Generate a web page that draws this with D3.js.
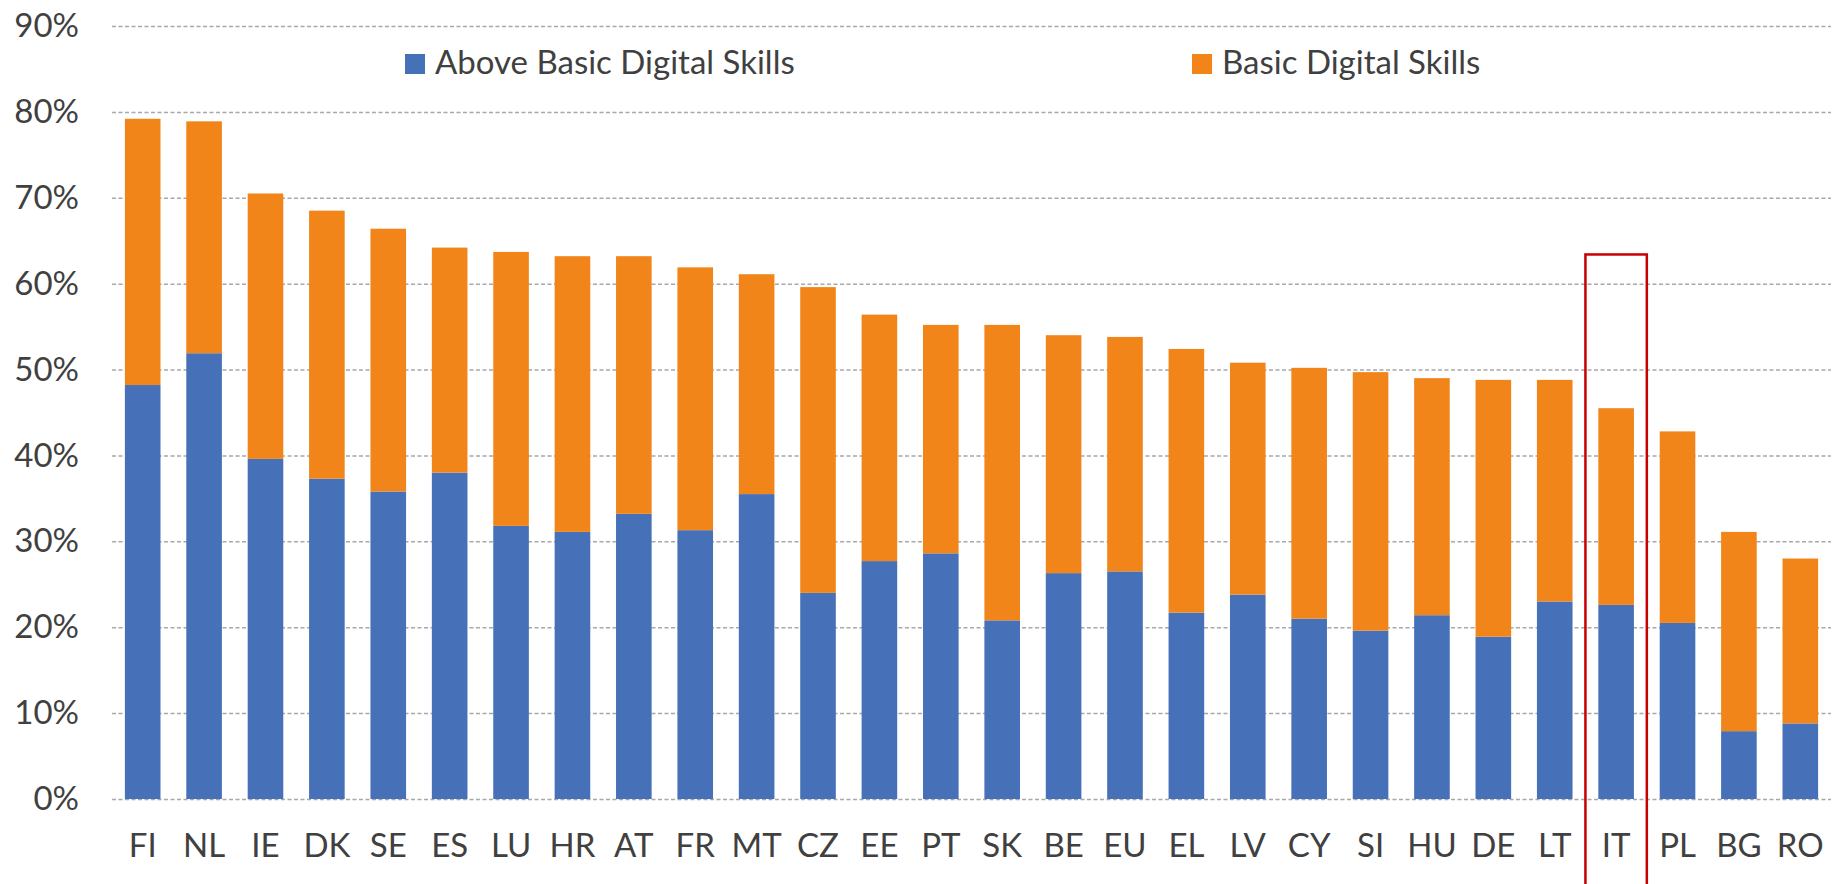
<!DOCTYPE html>
<html>
<head>
<meta charset="utf-8">
<script src="https://cdn.jsdelivr.net/npm/d3@7"></script>
<style>
  body { margin: 0; background: #fff; }
  svg text { font-family: Lato, "Noto Sans", sans-serif; fill: #404040; }
</style>
</head>
<body>
<div id="chart"></div>
<script>
// Share of people with digital skills, by country (stacked bars)
const countries = ['FI', 'NL', 'IE', 'DK', 'SE', 'ES', 'LU', 'HR', 'AT', 'FR', 'MT', 'CZ', 'EE', 'PT',
  'SK', 'BE', 'EU', 'EL', 'LV', 'CY', 'SI', 'HU', 'DE', 'LT', 'IT', 'PL', 'BG', 'RO'];

// percentages
const aboveBasic = [48.2, 51.9, 39.6, 37.3, 35.8, 38.0, 31.8, 31.1, 33.2, 31.3, 35.5, 24.0, 27.7, 28.6,
  20.8, 26.3, 26.5, 21.7, 23.8, 21.0, 19.6, 21.4, 18.9, 23.0, 22.6, 20.5, 7.9, 8.8];
const basic = [31.0, 27.0, 30.9, 31.2, 30.6, 26.2, 31.9, 32.1, 30.0, 30.6, 25.6, 35.6, 28.7, 26.6,
  34.4, 27.7, 27.3, 30.7, 27.0, 29.2, 30.1, 27.6, 29.9, 25.8, 22.9, 22.3, 23.2, 19.2];

const seriesNames = ['Above Basic Digital Skills', 'Basic Digital Skills'];
const seriesColors = ['#4671B8', '#F2851A'];
const yTicks = [0, 0.1, 0.2, 0.3, 0.4, 0.5, 0.6, 0.7, 0.8, 0.9];

// highlighted country and where its box starts
const highlight = 'IT';
const highlightTop = 0.634;

const width = 1832;
const height = 884;
const margin = { top: 26, right: 1, bottom: 85, left: 112 };

const rows = countries.map((c, i) => ({ country: c, above: aboveBasic[i] / 100, basic: basic[i] / 100 }));

const svg = d3.select('#chart').append('svg')
  .attr('width', width)
  .attr('height', height);

const x = d3.scaleBand()
  .domain(countries)
  .range([margin.left, width - margin.right])
  .paddingInner(0.42)
  .paddingOuter(0.21);

const y = d3.scaleLinear()
  .domain([0, 0.9])
  .range([height - margin.bottom, margin.top]);

// dashed gridlines
svg.append('g')
  .attr('class', 'grid')
  .attr('transform', `translate(${margin.left},0)`)
  .call(d3.axisLeft(y).tickValues(yTicks).tickSize(-(width - margin.left - margin.right)).tickFormat(''))
  .call(g => g.select('.domain').remove())
  .call(g => g.selectAll('line')
    .attr('stroke', '#a8a8a8')
    .attr('stroke-width', 1.5)
    .attr('stroke-dasharray', '4,2.5'));

// y labels
svg.append('g')
  .attr('transform', 'translate(79,0)')
  .call(d3.axisLeft(y).tickValues(yTicks).tickSize(0).tickPadding(0).tickFormat(d3.format('.0%')))
  .call(g => g.select('.domain').remove())
  .selectAll('text')
  .style('font-size', '33px')
  .attr('fill', '#404040');

// stacked bars
const stack = d3.stack().keys(['above', 'basic']);
const layers = stack(rows);

svg.append('g')
  .selectAll('g')
  .data(layers)
  .join('g')
  .attr('fill', (d, i) => seriesColors[i])
  .selectAll('rect')
  .data(d => d)
  .join('rect')
  .attr('x', d => x(d.data.country))
  .attr('width', x.bandwidth())
  .attr('y', d => y(d[1]))
  .attr('height', d => y(d[0]) - y(d[1]));

// x labels
svg.append('g')
  .attr('transform', `translate(0,${height - margin.bottom})`)
  .call(d3.axisBottom(x).tickSize(0).tickPadding(35))
  .call(g => g.select('.domain').remove())
  .selectAll('text')
  .style('font-size', '33px')
  .attr('fill', '#404040');

// red box round the highlighted country
const step = x.step();
const hx = x(highlight) + x.bandwidth() / 2 - step / 2;
svg.append('rect')
  .attr('x', hx)
  .attr('y', y(highlightTop))
  .attr('width', step)
  .attr('height', height)
  .attr('fill', 'none')
  .attr('stroke', '#C80000')
  .attr('stroke-width', 2.5);

// legend
const legendX = [405, 1192];
const legend = svg.append('g')
  .selectAll('g')
  .data(seriesNames)
  .join('g')
  .attr('transform', (d, i) => `translate(${legendX[i]},54)`);

legend.append('rect')
  .attr('width', 20)
  .attr('height', 20)
  .attr('fill', (d, i) => seriesColors[i]);

legend.append('text')
  .attr('x', 30)
  .attr('y', 20)
  .style('font-size', '33px')
  .text(d => d);
</script>
</body>
</html>
